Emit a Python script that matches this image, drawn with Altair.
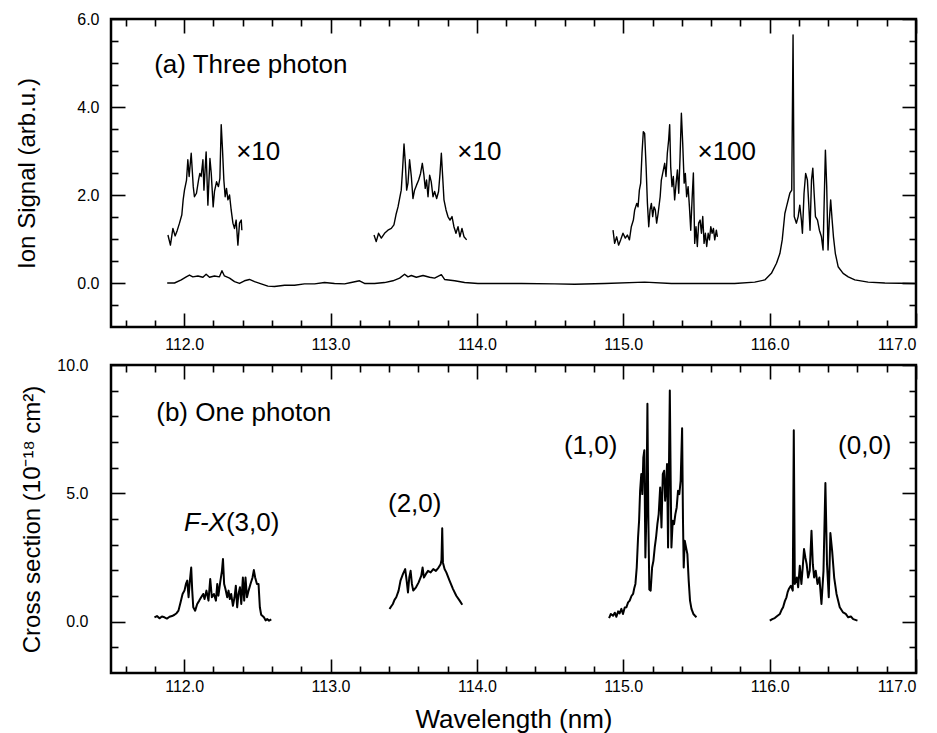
import altair as alt
import pandas as pd

# ---------------- axis settings ----------------
X_DOMAIN = [111.5, 117.0]
TOP_Y_DOMAIN = [-1.0, 6.0]
BOT_Y_DOMAIN = [-2.0, 10.0]
X_MAJOR = [112.0, 113.0, 114.0, 115.0, 116.0, 117.0]
X_MINOR = [111.6, 111.8, 112.2, 112.4, 112.6, 112.8, 113.2, 113.4, 113.6, 113.8,
           114.2, 114.4, 114.6, 114.8, 115.2, 115.4, 115.6, 115.8, 116.2, 116.4,
           116.6, 116.8]
TOP_Y_MAJOR = [0.0, 2.0, 4.0, 6.0]
TOP_Y_MINOR = [-0.5, 0.5, 1.0, 1.5, 2.5, 3.0, 3.5, 4.5, 5.0, 5.5]
BOT_Y_MAJOR = [0.0, 5.0, 10.0]
BOT_Y_MINOR = [-1.0, 1.0, 2.0, 3.0, 4.0, 6.0, 7.0, 8.0, 9.0]

# ---------------- (a) three-photon spectrum (wavelength nm, signal) ----------------
base_pts = [
    (111.884, 0.00), (111.934, 0.00), (111.980, 0.07), (112.014, 0.14), (112.036, 0.18),
    (112.059, 0.14), (112.094, 0.16), (112.128, 0.13), (112.150, 0.20), (112.173, 0.13),
    (112.207, 0.16), (112.241, 0.14), (112.258, 0.28), (112.275, 0.16), (112.310, 0.11),
    (112.344, 0.03), (112.378, -0.01), (112.412, 0.05), (112.446, 0.08), (112.481, 0.03),
    (112.526, -0.02), (112.572, -0.07), (112.617, -0.08), (112.686, -0.05), (112.754, -0.05),
    (112.822, -0.02), (112.891, -0.02), (112.959, 0.01), (113.027, -0.01), (113.096, -0.02),
    (113.141, 0.01), (113.198, 0.05), (113.232, -0.01), (113.301, -0.01), (113.369, 0.01),
    (113.426, 0.05), (113.472, 0.11), (113.506, 0.20), (113.529, 0.14), (113.552, 0.17),
    (113.586, 0.13), (113.632, 0.17), (113.677, 0.13), (113.711, 0.11), (113.757, 0.19),
    (113.779, 0.08), (113.848, 0.05), (113.916, 0.01), (114.007, -0.01), (114.167, -0.01),
    (114.304, -0.01), (114.531, -0.02), (114.668, -0.03), (114.873, -0.01), (115.146, 0.02),
    (115.329, -0.01), (115.556, -0.01), (115.761, -0.01), (115.898, 0.02), (115.967, 0.07),
    (116.012, 0.22), (116.047, 0.45), (116.070, 0.67), (116.086, 0.98), (116.104, 1.58),
    (116.115, 1.73), (116.138, 2.04), (116.151, 2.11), (116.160, 5.64), (116.168, 1.51),
    (116.183, 1.36), (116.195, 1.51), (116.206, 1.77), (116.217, 1.43), (116.224, 1.13),
    (116.235, 2.04), (116.246, 2.49), (116.258, 2.34), (116.267, 1.81), (116.276, 1.20),
    (116.286, 2.34), (116.295, 2.61), (116.304, 2.04), (116.313, 1.51), (116.327, 1.43),
    (116.340, 1.20), (116.354, 1.05), (116.365, 0.75), (116.381, 3.02), (116.390, 2.19),
    (116.399, 0.75), (116.408, 1.43), (116.417, 1.89), (116.427, 1.43), (116.436, 1.05),
    (116.449, 0.67), (116.468, 0.37), (116.502, 0.22), (116.537, 0.14), (116.582, 0.07),
    (116.673, 0.02), (116.787, 0.00), (116.992, -0.01),
]

x10a_pts = [
    (111.889, 1.09), (111.906, 0.86), (111.923, 1.24), (111.938, 1.07), (111.952, 1.19),
    (111.968, 1.36), (111.984, 1.55), (111.993, 1.89), (112.002, 2.11), (112.016, 2.34),
    (112.025, 2.80), (112.034, 2.42), (112.048, 2.95), (112.062, 2.19), (112.070, 1.96),
    (112.084, 2.04), (112.098, 2.34), (112.107, 2.49), (112.116, 2.42), (112.128, 2.80),
    (112.135, 2.11), (112.144, 2.64), (112.150, 2.98), (112.162, 1.77), (112.176, 2.83),
    (112.185, 2.49), (112.198, 1.73), (112.207, 2.08), (112.221, 2.30), (112.234, 2.19),
    (112.244, 2.38), (112.253, 3.60), (112.262, 3.02), (112.271, 2.34), (112.280, 1.96),
    (112.289, 2.15), (112.299, 1.89), (112.310, 2.00), (112.321, 1.66), (112.333, 1.36),
    (112.344, 1.24), (112.355, 1.43), (112.367, 0.86), (112.378, 1.36), (112.390, 1.43),
    (112.394, 1.20),
]

x10b_pts = [
    (113.297, 1.09), (113.312, 0.94), (113.328, 1.13), (113.347, 1.02), (113.369, 1.13),
    (113.392, 1.20), (113.415, 1.24), (113.433, 1.32), (113.447, 1.55), (113.461, 1.73),
    (113.474, 1.96), (113.483, 2.11), (113.492, 2.57), (113.502, 3.16), (113.511, 2.72),
    (113.520, 2.11), (113.529, 2.27), (113.540, 2.80), (113.552, 2.42), (113.563, 1.92),
    (113.574, 2.11), (113.588, 2.23), (113.602, 2.34), (113.615, 2.49), (113.627, 2.72),
    (113.638, 2.45), (113.647, 2.15), (113.656, 2.34), (113.666, 1.96), (113.677, 2.45),
    (113.688, 2.30), (113.700, 1.96), (113.711, 2.08), (113.725, 1.92), (113.738, 2.08),
    (113.748, 2.49), (113.757, 2.95), (113.766, 2.42), (113.775, 1.89), (113.789, 1.66),
    (113.802, 1.51), (113.816, 1.43), (113.830, 1.51), (113.843, 1.28), (113.857, 1.13),
    (113.871, 1.28), (113.884, 1.05), (113.898, 1.24), (113.912, 1.05), (113.930, 0.98),
]

x100_pts = [
    (114.930, 1.20), (114.941, 0.90), (114.955, 1.05), (114.968, 0.86), (114.982, 0.98),
    (114.998, 1.13), (115.014, 1.02), (115.028, 1.09), (115.042, 0.98), (115.055, 1.28),
    (115.069, 1.43), (115.078, 1.66), (115.092, 1.81), (115.101, 1.73), (115.110, 2.11),
    (115.119, 2.27), (115.128, 2.95), (115.137, 3.44), (115.146, 3.40), (115.156, 2.64),
    (115.165, 1.81), (115.174, 1.28), (115.183, 1.66), (115.192, 1.81), (115.201, 1.51),
    (115.210, 1.73), (115.219, 1.66), (115.228, 1.36), (115.238, 1.58), (115.252, 1.96),
    (115.260, 2.34), (115.274, 2.57), (115.283, 2.72), (115.292, 2.42), (115.301, 2.95),
    (115.310, 3.25), (115.317, 3.60), (115.324, 2.64), (115.333, 2.19), (115.342, 2.42),
    (115.351, 1.89), (115.361, 2.27), (115.370, 2.57), (115.379, 2.04), (115.388, 2.87),
    (115.397, 3.86), (115.406, 3.18), (115.416, 2.27), (115.424, 2.49), (115.433, 1.96),
    (115.443, 2.19), (115.452, 1.73), (115.461, 1.20), (115.470, 1.89), (115.479, 2.50),
    (115.488, 0.90), (115.497, 1.28), (115.506, 0.83), (115.515, 1.36), (115.525, 1.43),
    (115.534, 1.13), (115.543, 1.51), (115.552, 0.90), (115.561, 1.13), (115.570, 0.83),
    (115.580, 1.13), (115.589, 0.98), (115.598, 1.28), (115.607, 1.13), (115.616, 1.24),
    (115.625, 0.98), (115.636, 1.20), (115.643, 1.05),
]

# ---------------- (b) one-photon cross section (wavelength nm, 1e-18 cm2) ----------------
band30_pts = [
    (111.797, 0.17), (111.814, 0.22), (111.831, 0.13), (111.848, 0.20), (111.865, 0.17),
    (111.882, 0.12), (111.900, 0.19), (111.917, 0.22), (111.934, 0.27), (111.948, 0.33),
    (111.961, 0.43), (111.975, 0.75), (111.989, 1.08), (112.002, 1.21), (112.012, 1.47),
    (112.021, 1.60), (112.030, 0.95), (112.039, 1.60), (112.048, 2.11), (112.055, 1.21),
    (112.062, 0.56), (112.075, 0.43), (112.089, 0.69), (112.103, 0.82), (112.116, 0.95),
    (112.130, 1.08), (112.139, 0.88), (112.152, 1.21), (112.166, 0.82), (112.178, 1.66),
    (112.189, 0.95), (112.203, 1.08), (112.217, 0.82), (112.226, 1.47), (112.234, 1.01),
    (112.246, 1.53), (112.258, 1.98), (112.265, 2.44), (112.273, 1.47), (112.282, 1.27),
    (112.294, 0.95), (112.303, 1.21), (112.312, 0.88), (112.321, 1.08), (112.333, 0.62),
    (112.344, 0.95), (112.353, 1.40), (112.362, 0.56), (112.371, 1.08), (112.381, 1.34),
    (112.390, 0.69), (112.401, 1.72), (112.410, 0.82), (112.419, 1.72), (112.429, 0.95),
    (112.440, 1.21), (112.453, 1.47), (112.467, 1.72), (112.476, 2.01), (112.485, 1.72),
    (112.497, 1.47), (112.508, 1.47), (112.517, 0.56), (112.526, 0.27), (112.545, 0.17),
    (112.556, 0.05), (112.567, 0.10), (112.580, 0.04), (112.595, 0.09),
]

band20_pts = [
    (113.403, 0.49), (113.415, 0.60), (113.426, 0.69), (113.437, 0.85), (113.449, 0.95),
    (113.465, 1.21), (113.478, 1.60), (113.495, 1.86), (113.510, 2.05), (113.520, 1.60),
    (113.529, 1.14), (113.538, 1.72), (113.547, 1.98), (113.556, 1.47), (113.565, 1.21),
    (113.584, 1.34), (113.602, 1.53), (113.620, 1.79), (113.629, 2.11), (113.638, 1.72),
    (113.652, 1.86), (113.666, 1.98), (113.684, 1.92), (113.702, 2.05), (113.720, 1.98),
    (113.738, 2.11), (113.752, 2.24), (113.758, 2.40), (113.763, 3.64), (113.768, 2.30),
    (113.779, 2.05), (113.791, 1.92), (113.813, 1.60), (113.837, 1.27), (113.859, 1.01),
    (113.882, 0.82), (113.900, 0.66),
]

band10_pts = [
    (114.903, 0.14), (114.915, 0.30), (114.930, 0.23), (114.942, 0.35), (114.953, 0.19),
    (114.965, 0.40), (114.975, 0.32), (114.987, 0.50), (114.998, 0.30), (115.010, 0.55),
    (115.021, 0.56), (115.033, 0.75), (115.044, 0.82), (115.056, 1.00), (115.067, 1.08),
    (115.075, 1.30), (115.083, 1.47), (115.092, 2.11), (115.101, 3.28), (115.108, 3.93),
    (115.115, 5.10), (115.123, 5.75), (115.130, 4.97), (115.137, 6.39), (115.144, 6.68),
    (115.151, 2.50), (115.158, 4.19), (115.165, 8.49), (115.171, 4.19), (115.178, 1.25),
    (115.187, 1.21), (115.197, 2.11), (115.206, 2.37), (115.215, 2.89), (115.224, 3.28),
    (115.233, 3.80), (115.242, 4.19), (115.252, 5.23), (115.261, 3.67), (115.270, 5.75),
    (115.279, 5.88), (115.286, 4.71), (115.292, 5.23), (115.299, 6.14), (115.306, 2.89),
    (115.318, 9.01), (115.324, 5.49), (115.329, 2.89), (115.338, 3.93), (115.347, 3.80),
    (115.356, 4.19), (115.365, 4.45), (115.374, 5.10), (115.383, 4.97), (115.392, 5.49),
    (115.402, 7.54), (115.408, 3.93), (115.413, 2.11), (115.420, 3.15), (115.429, 2.89),
    (115.438, 2.63), (115.447, 1.60), (115.456, 0.82), (115.466, 0.50), (115.479, 0.30),
    (115.490, 0.23), (115.500, 0.17),
]

band00_pts = [
    (116.001, 0.04), (116.018, 0.10), (116.035, 0.14), (116.052, 0.22), (116.070, 0.30),
    (116.081, 0.45), (116.092, 0.56), (116.104, 0.80), (116.115, 0.95), (116.123, 1.15),
    (116.131, 1.27), (116.145, 1.40), (116.158, 1.21), (116.165, 7.46), (116.172, 1.47),
    (116.186, 1.72), (116.195, 1.34), (116.206, 2.18), (116.217, 1.47), (116.226, 2.11),
    (116.235, 2.83), (116.244, 2.50), (116.253, 2.24), (116.263, 1.72), (116.274, 1.98),
    (116.286, 3.54), (116.295, 2.24), (116.304, 1.72), (116.315, 1.98), (116.327, 1.47),
    (116.340, 1.72), (116.354, 0.69), (116.368, 1.98), (116.381, 5.40), (116.392, 2.24),
    (116.404, 0.95), (116.415, 3.45), (116.427, 2.76), (116.441, 1.72), (116.457, 1.08),
    (116.479, 0.56), (116.502, 0.36), (116.520, 0.30), (116.537, 0.17), (116.555, 0.20),
    (116.571, 0.10), (116.600, 0.04),
]

# ---------------- annotations ----------------
top_note_text = ["(a) Three photon", "\u00d710", "\u00d710", "\u00d7100"]
top_note_x = [111.795, 112.355, 113.866, 115.507]
top_note_y = [4.95, 2.98, 2.98, 2.98]

bot_left_text = ["(b) One photon", "(3,0)"]
bot_left_x = [111.809, 112.285]
bot_left_y = [8.14, 3.86]

bot_italic_text = ["F-X"]
bot_italic_x = [112.285]
bot_italic_y = [3.86]

bot_center_text = ["(2,0)", "(1,0)", "(0,0)"]
bot_center_x = [113.575, 114.777, 116.650]
bot_center_y = [4.58, 6.85, 6.85]

FONT = "Liberation Sans"
W = 805
H = 308
LABEL_SIZE = 16


def series_df(named):
    rows = []
    for name, pts in named:
        for x, y in pts:
            rows.append({"x": x, "y": y, "seg": name})
    return pd.DataFrame(rows)


top_df = series_df([("base", base_pts), ("x10a", x10a_pts), ("x10b", x10b_pts), ("x100", x100_pts)])
bot_df = series_df([("b30", band30_pts), ("b20", band20_pts), ("b10", band10_pts), ("b00", band00_pts)])


def text_layer(texts, xs, ys, xscale, yscale, align, italic=False):
    df = pd.DataFrame({"x": xs, "y": ys, "t": texts})
    kw = dict(align=align, baseline="middle", font=FONT, fontSize=26, color="black")
    if italic:
        kw["fontStyle"] = "italic"
    return alt.Chart(df).mark_text(**kw).encode(
        x=alt.X("x:Q", scale=xscale, axis=None),
        y=alt.Y("y:Q", scale=yscale, axis=None),
        text="t:N",
    )


def tick_axis(vals, orient, size, offset):
    # axis placed on the opposite edge of the plot so that its ticks point inward
    return alt.Axis(orient=orient, values=vals, tickSize=size, offset=offset,
                    labels=False, domain=False, grid=False, ticks=True,
                    tickColor="black", tickWidth=1.6, title=None,
                    minExtent=0, maxExtent=0)


def tick_layer(df, xscale, yscale, xvals, yvals, xorient, yorient, size):
    return alt.Chart(df).mark_point(opacity=0).encode(
        x=alt.X("x:Q", scale=xscale, axis=tick_axis(xvals, xorient, size, -H)),
        y=alt.Y("y:Q", scale=yscale, axis=tick_axis(yvals, yorient, size, -W)),
    )


def panel(df, ydom, ymaj, ymin, ytitle, ytitle_x, ylab_pad, xlab_pad, xtitle, line_w, texts):
    xs = alt.Scale(domain=X_DOMAIN, nice=False, zero=False)
    ys = alt.Scale(domain=ydom, nice=False, zero=False)
    xaxis_kw = dict(orient="bottom", values=X_MAJOR[:-1], format=".1f", ticks=False, tickSize=0,
                    domain=False, grid=False, labelPadding=xlab_pad, labelFlush=False,
                    labelOverlap=False, labelFontSize=LABEL_SIZE)
    if xtitle:
        xaxis_kw.update(title=xtitle, titleFontSize=26, titleY=46, titleBaseline="middle")
    else:
        xaxis_kw.update(title=None)
    line = alt.Chart(df).mark_line(color="black", strokeWidth=line_w,
                                   strokeJoin="round").encode(
        x=alt.X("x:Q", scale=xs, axis=alt.Axis(**xaxis_kw)),
        y=alt.Y("y:Q", scale=ys, axis=alt.Axis(
            orient="left", values=ymaj, format=".1f", ticks=False, tickSize=0, domain=False,
            grid=False, labelPadding=ylab_pad, labelFlush=False, labelOverlap=False,
            labelFontSize=LABEL_SIZE, title=ytitle, titleFontSize=24, titleX=ytitle_x,
            titleBaseline="middle")),
        detail="seg:N",
    )
    # last x label ("117.0") sits at the right edge: flush-aligned and pushed outward
    edge_label = alt.Chart(df).mark_point(opacity=0).encode(
        x=alt.X("x:Q", scale=xs, axis=alt.Axis(
            orient="bottom", values=[X_DOMAIN[0], X_MAJOR[-1]], format=".1f", ticks=False,
            tickSize=0, domain=False, grid=False, labelPadding=xlab_pad, labelFlush=13,
            labelOverlap=False, labelFontSize=LABEL_SIZE, title=None,
            labelExpr="datum.value < 111.9 ? '' : datum.label")),
        y=alt.Y("y:Q", scale=ys, axis=None),
    )
    layers = [line, edge_label]
    # bottom-edge & left-edge ticks (axes on the opposite side, ticks point inward)
    layers.append(tick_layer(df, xs, ys, X_MINOR, ymin, "top", "right", 7))
    layers.append(tick_layer(df, xs, ys, X_MAJOR, ymaj, "top", "right", 14))
    # top-edge & right-edge ticks
    layers.append(tick_layer(df, xs, ys, X_MINOR, ymin, "bottom", "left", 7))
    layers.append(tick_layer(df, xs, ys, X_MAJOR, ymaj, "bottom", "left", 14))
    for t in texts:
        layers.append(text_layer(t[0], t[1], t[2], xs, ys, t[3], t[4] if len(t) > 4 else False))
    return alt.layer(*layers).resolve_axis(x="independent", y="independent").properties(
        width=W, height=H)


top = panel(top_df, TOP_Y_DOMAIN, TOP_Y_MAJOR, TOP_Y_MINOR, "Ion Signal (arb.u.)", -84, 12, 9,
            None, 1.4,
            [(top_note_text, top_note_x, top_note_y, "left")])

bottom = panel(bot_df, BOT_Y_DOMAIN, BOT_Y_MAJOR, BOT_Y_MINOR,
               "Cross section (10\u207b\u00b9\u2078 cm\u00b2)", -79, 23, 5,
               "Wavelength (nm)", 2.0,
               [(bot_left_text, bot_left_x, bot_left_y, "left"),
                (bot_italic_text, bot_italic_x, bot_italic_y, "right", True),
                (bot_center_text, bot_center_x, bot_center_y, "center")])

chart = alt.vconcat(top, bottom, spacing=1).properties(
    padding={"left": 5, "top": 1, "right": 0, "bottom": 0}
).configure_view(
    stroke="black", strokeWidth=2.5
).configure_axis(
    labelFont=FONT, titleFont=FONT, labelColor="black", titleColor="black",
    titleFontWeight="normal", labelFontSize=LABEL_SIZE
)

chart.save("out.html", embed_options={"renderer": "svg", "actions": False})
